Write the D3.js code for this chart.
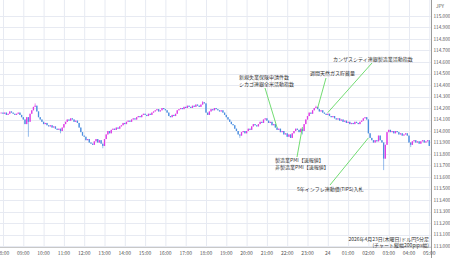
<!DOCTYPE html>
<html>
<head>
<meta charset="utf-8">
<script src="https://cdn.jsdelivr.net/npm/d3@7"></script>
<style>
    body { margin: 0; background: #fff; }
    svg { display: block; font-family: "Noto Sans CJK JP", "Noto Sans", sans-serif; }
</style>
</head>
<body>
<div class="canvas"></div>
<script>
// ドル円 5分足 (close), first candle 07:50
const startTime = '2026-04-23 07:50';
const firstOpen = 114.16;
const closes = [
    114.16, 114.16,
    114.15, 114.16, 114.14, 114.15, 114.17, 114.16, 114.15, 114.14, 114.15, 114.16, 114.14, 114.12,
    114.10, 114.06, 114.12, 114.08, 114.15, 114.18, 114.21, 114.22, 114.17, 114.12, 114.10, 114.08,
    114.06, 114.07, 114.05, 114.04, 114.05, 114.03, 114.04, 114.02, 114.01, 114.02, 114.00, 114.03,
    114.06, 114.08, 114.10, 114.09, 114.11, 114.10, 114.08, 114.09, 114.07, 114.03, 113.99, 113.96,
    113.95, 113.92, 113.93, 113.90, 113.89, 113.88, 113.91, 113.93, 113.90, 113.92, 113.89, 113.87,
    113.93, 113.97, 114.00, 113.98, 114.01, 114.02, 114.01, 114.03, 114.02, 114.04, 114.05, 114.07,
    114.06, 114.08, 114.09, 114.08, 114.10, 114.11, 114.10, 114.12, 114.13, 114.12, 114.14, 114.15,
    114.14, 114.13, 114.15, 114.14, 114.16, 114.17, 114.18, 114.19, 114.17, 114.18, 114.20, 114.19,
    114.18, 114.16, 114.13, 114.12, 114.14, 114.13, 114.15, 114.18, 114.19, 114.20, 114.19, 114.21,
    114.20, 114.22, 114.21, 114.20, 114.22, 114.21, 114.23, 114.22, 114.21, 114.23, 114.25, 114.24,
    114.16, 114.14, 114.17, 114.19, 114.18, 114.20, 114.19, 114.18, 114.17, 114.18, 114.16, 114.14,
    114.12, 114.10, 114.08, 114.06, 114.05, 114.02, 114.00, 113.97, 113.96, 113.99, 114.00, 113.98,
    114.00, 114.02, 114.01, 114.04, 114.06, 114.05, 114.04, 114.06, 114.08, 114.07, 114.10, 114.11,
    114.09, 114.07, 114.08, 114.05, 114.06, 114.03, 114.01, 114.02, 113.99, 114.00, 113.97, 113.98,
    113.95, 113.97, 113.94, 113.98, 114.00, 114.02, 114.01, 113.99, 114.02, 114.00, 114.06, 114.10,
    114.13, 114.16, 114.15, 114.18, 114.20, 114.21, 114.19, 114.17, 114.18, 114.16, 114.15, 114.14,
    114.15, 114.13, 114.12, 114.13, 114.11, 114.10, 114.11, 114.09, 114.10, 114.08, 114.09, 114.07,
    114.08, 114.06, 114.07, 114.06, 114.08, 114.07, 114.06, 114.08, 114.09, 114.11, 114.12, 114.10,
    113.98, 113.94, 113.92, 113.90, 113.92, 113.91, 113.96, 113.92, 113.90, 113.76, 113.88, 113.99,
    114.01, 113.99, 114.00, 113.98, 114.00, 113.99, 113.97, 113.98, 113.96, 113.97, 113.98, 113.96,
    113.90, 113.88, 113.91, 113.92, 113.90, 113.91, 113.89, 113.91, 113.92, 113.90, 113.91, 113.92,
    113.87
];

// candles with visible wicks
const wickTimes = ['2026-04-23 09:15', '2026-04-23 09:35', '2026-04-23 10:50', '2026-04-23 12:55',
    '2026-04-23 17:50', '2026-04-23 19:40', '2026-04-23 22:45', '2026-04-23 23:25',
    '2026-04-24 02:45', '2026-04-24 04:05'];
const wickHighs = [114.12, 114.24, 114.02, 113.89, 114.26, 113.97, 114.02, 114.22, 113.90, 113.90];
const wickLows = [113.95, 114.21, 113.98, 113.85, 114.23, 113.94, 113.97, 114.20, 113.66, 113.86];

const yTicks = [113.0, 113.1, 113.2, 113.3, 113.4, 113.5, 113.6, 113.7, 113.8, 113.9, 114.0,
    114.1, 114.2, 114.3, 114.4, 114.5, 114.6, 114.7, 114.8, 114.9, 115.0];

// 経済指標
const eventTimes = ['2026-04-23 21:30', '2026-04-23 22:45', '2026-04-23 23:30', '2026-04-24 00:00', '2026-04-24 02:00'];
const eventPrices = [114.03, 114.035, 114.20, 114.16, 113.94];
const eventLabels = [
    ['新規失業保険申請件数', 'シカゴ連銀全米活動指数'],
    ['製造業PMI【速報値】', '非製造業PMI【速報値】'],
    ['週間天然ガス貯蔵量'],
    ['カンザスシティ連銀製造業活動指数'],
    ['5年インフレ連動債(TIPS)入札']
];
const titleLines = ['2026年4月23日(木曜日)ドル円5分足', '(チャート縦幅200pips幅)'];

// label placement (text x, first baseline, leader start x/y)
const eventLayout = [
    { tx: 239, ty: 79, lx: 265, ly: 88 },
    { tx: 275, ty: 162, lx: 297, ly: 157 },
    { tx: 310, ty: 75, lx: 326, ly: 78 },
    { tx: 333, ty: 61, lx: 372, ly: 63 },
    { tx: 297, ty: 191, lx: 330, ly: 185 }
];

const width = 450, height = 258;
const plotRight = 431, plotBottom = 247;
const upColor = '#e03ce6', downColor = '#4d8fe0';

const parse = d3.utcParse('%Y-%m-%d %H:%M');

const svg = d3.select('.canvas')
    .append('svg')
    .attr('width', width)
    .attr('height', height);

svg.append('rect').attr('width', width).attr('height', height).attr('fill', '#fff');

// scales
const x = d3.scaleUtc()
    .domain([parse('2026-04-23 08:00'), parse('2026-04-24 05:00')])
    .range([3, 429.3]);
const y = d3.scaleLinear()
    .domain([113, 115])
    .range([246, 16]);

// candles
const t0 = parse(startTime);
const wickMap = new Map(wickTimes.map((t, i) => [+parse(t), i]));
const candles = closes.map((c, i) => {
    const t = d3.utcMinute.offset(t0, i * 5);
    const o = i === 0 ? firstOpen : closes[i - 1];
    let hi = Math.max(o, c), lo = Math.min(o, c);
    const w = wickMap.get(+t);
    if (w !== undefined) {
        hi = Math.max(hi, wickHighs[w]);
        lo = Math.min(lo, wickLows[w]);
    }
    return { t, o, c, hi, lo };
});

svg.append('clipPath').attr('id', 'plot')
    .append('rect').attr('width', plotRight).attr('height', plotBottom);

const plot = svg.append('g').attr('clip-path', 'url(#plot)');

// grid
const hours = d3.utcHour.range(parse('2026-04-23 08:00'), parse('2026-04-24 05:30'));
plot.selectAll('.vgrid')
    .data(hours)
    .enter().append('line')
    .attr('x1', d => x(d) + 0.5).attr('x2', d => x(d) + 0.5)
    .attr('y1', 0).attr('y2', plotBottom)
    .attr('stroke', '#e7eaf2').attr('stroke-width', 1);
plot.selectAll('.hgrid')
    .data(yTicks)
    .enter().append('line')
    .attr('x1', 0).attr('x2', plotRight)
    .attr('y1', d => Math.round(y(d)) + 0.5).attr('y2', d => Math.round(y(d)) + 0.5)
    .attr('stroke', '#e7eaf2').attr('stroke-width', 1);

// wicks + bodies
const cg = plot.append('g');
cg.selectAll('line')
    .data(candles)
    .enter().append('line')
    .attr('x1', d => x(d.t)).attr('x2', d => x(d.t))
    .attr('y1', d => y(d.hi)).attr('y2', d => y(d.lo))
    .attr('stroke', d => d.c >= d.o ? upColor : downColor)
    .attr('stroke-width', 0.6);
cg.selectAll('rect')
    .data(candles)
    .enter().append('rect')
    .attr('x', d => x(d.t) - 0.65)
    .attr('width', 1.3)
    .attr('y', d => y(Math.max(d.o, d.c)))
    .attr('height', d => Math.max(0.8, y(Math.min(d.o, d.c)) - y(Math.max(d.o, d.c))))
    .attr('fill', d => d.c >= d.o ? upColor : downColor);

// axes
svg.append('line')
    .attr('x1', plotRight + 0.5).attr('x2', plotRight + 0.5)
    .attr('y1', 0).attr('y2', height)
    .attr('stroke', '#9a9a9a');
svg.append('line')
    .attr('x1', 0).attr('x2', plotRight)
    .attr('y1', plotBottom + 0.5).attr('y2', plotBottom + 0.5)
    .attr('stroke', '#c8c8c8');

svg.selectAll('.ylab')
    .data(yTicks)
    .enter().append('text')
    .attr('x', 433.5).attr('y', d => y(d) + 1.7)
    .attr('font-size', 4.7).attr('fill', '#555')
    .text(d => d3.format('.3f')(d));
svg.append('text')
    .attr('x', 436).attr('y', 8)
    .attr('font-size', 4.7).attr('fill', '#555')
    .text('JPY');

const fmtHour = d => d.getUTCHours() === 0 ? '24' : d3.utcFormat('%H:%M')(d);
svg.selectAll('.xlab')
    .data(hours)
    .enter().append('text')
    .attr('x', d => x(d)).attr('y', 254.5)
    .attr('text-anchor', 'middle')
    .attr('font-size', 5).attr('fill', '#555')
    .text(fmtHour);

// event annotations
eventTimes.forEach((t, i) => {
    const L = eventLayout[i];
    svg.append('line')
        .attr('x1', L.lx).attr('y1', L.ly)
        .attr('x2', x(parse(t))).attr('y2', y(eventPrices[i]))
        .attr('stroke', '#62d862').attr('stroke-width', 0.9);
    eventLabels[i].forEach((s, j) => {
        svg.append('text')
            .attr('x', L.tx).attr('y', L.ty + j * 7)
            .attr('font-size', 5).attr('fill', '#333')
            .text(s);
    });
});

// title
titleLines.forEach((s, j) => {
    svg.append('text')
        .attr('x', 429).attr('y', 241 + j * 5.5)
        .attr('text-anchor', 'end')
        .attr('font-size', 5).attr('fill', '#333')
        .text(s);
});
</script>
</body>
</html>
